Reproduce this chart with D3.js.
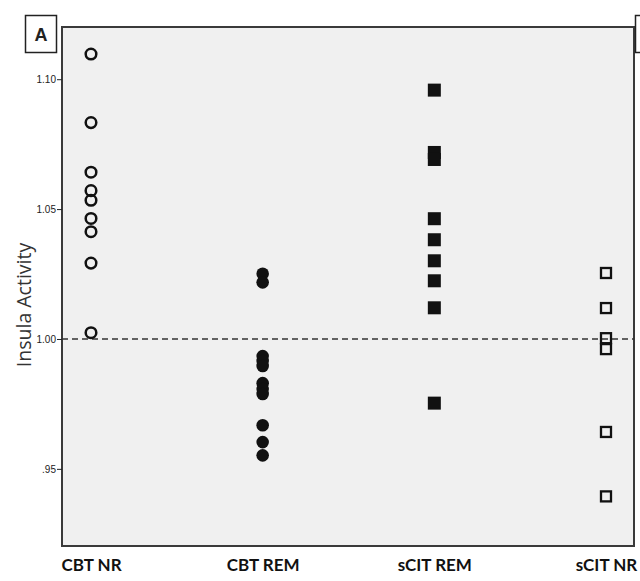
<!DOCTYPE html>
<html>
<head>
<meta charset="utf-8">
<script src="https://cdn.jsdelivr.net/npm/d3@7"></script>
<style>
  body { margin: 0; background: #fff; }
</style>
</head>
<body>
<div id="chart"></div>
<script>
// groups along the x axis, and the marker used for each
var groups = ["CBT NR", "CBT REM", "sCIT REM", "sCIT NR"];
var markers = ["openCircle", "filledCircle", "filledSquare", "openSquare"];

// insula activity per subject
var cbtNR   = [1.1097, 1.0833, 1.0642, 1.0571, 1.0534, 1.0464, 1.0413, 1.0292, 1.0024];
var cbtREM  = [1.0251, 1.0218, 0.9934, 0.9915, 0.9896, 0.9830, 0.9807, 0.9788, 0.9668, 0.9603, 0.9552];
var scitREM = [1.0958, 1.0718, 1.0691, 1.0463, 1.0382, 1.0301, 1.0224, 1.0120, 0.9753];
var scitNR  = [1.0254, 1.0119, 1.0003, 0.9961, 0.9642, 0.9394];

var yTicks = [0.95, 1.00, 1.05, 1.10];
var yTickLabels = [".95", "1.00", "1.05", "1.10"];
var refLine = 1.00;

var series = [cbtNR, cbtREM, scitREM, scitNR];

var W = 640, H = 581;
var frame = { left: 62, top: 27, right: 634, bottom: 546 };

var svg = d3.select("#chart").append("svg")
    .attr("width", W)
    .attr("height", H);

var x = d3.scalePoint()
    .domain(groups)
    .range([91, 606]);

var y = d3.scaleLinear()
    .domain([0.9203, 1.1201])
    .range([frame.bottom, frame.top]);

// plot background + frame
svg.append("rect")
    .attr("x", frame.left)
    .attr("y", frame.top)
    .attr("width", frame.right - frame.left)
    .attr("height", frame.bottom - frame.top)
    .style("fill", "#f0f0f0")
    .style("stroke", "#3a3a3a")
    .style("stroke-width", "2px");

// y axis
var yAxis = svg.append("g")
    .attr("transform", "translate(" + frame.left + ",0)")
    .call(d3.axisLeft(y)
        .tickValues(yTicks)
        .tickSize(5)
        .tickPadding(1)
        .tickFormat(function (d, i) { return yTickLabels[i]; }));
yAxis.select(".domain").remove();
yAxis.selectAll("line").style("stroke", "#222");
yAxis.selectAll("text")
    .style("font-family", "'Liberation Sans', Arial, sans-serif")
    .style("font-size", "10px")
    .style("fill", "#222")
    .attr("dy", "0.35em");

// y title
svg.append("text")
    .attr("transform", "translate(31,305) rotate(-90)")
    .attr("text-anchor", "middle")
    .style("font-family", "'Open Sans', sans-serif")
    .style("font-size", "19.5px")
    .style("fill", "#333")
    .text("Insula Activity");

// dashed reference line at 1.00
svg.append("line")
    .attr("x1", frame.left)
    .attr("x2", frame.right)
    .attr("y1", y(refLine))
    .attr("y2", y(refLine))
    .style("stroke", "#333")
    .style("stroke-width", "1.5px")
    .style("stroke-dasharray", "6,4");

// points
series.forEach(function (vals, gi) {
    var g = svg.append("g").attr("class", "group");
    var cx = x(groups[gi]);
    var kind = markers[gi];
    vals.forEach(function (v) {
        var cy = y(v);
        if (kind === "openCircle") {
            g.append("circle").attr("cx", cx).attr("cy", cy).attr("r", 5.3)
                .style("fill", "none").style("stroke", "#111").style("stroke-width", "2.5px");
        } else if (kind === "filledCircle") {
            g.append("circle").attr("cx", cx).attr("cy", cy).attr("r", 6.3)
                .style("fill", "#111").style("stroke", "none");
        } else if (kind === "filledSquare") {
            g.append("rect").attr("x", cx - 6.5).attr("y", cy - 6.5).attr("width", 13).attr("height", 13)
                .style("fill", "#111").style("stroke", "none");
        } else {
            g.append("rect").attr("x", cx - 5).attr("y", cy - 5).attr("width", 10).attr("height", 10)
                .style("fill", "none").style("stroke", "#111").style("stroke-width", "2.3px");
        }
    });
});

// x labels
var xAxis = svg.append("g")
    .attr("transform", "translate(0," + frame.bottom + ")")
    .call(d3.axisBottom(x).tickSize(0).tickPadding(13));
xAxis.select(".domain").remove();
xAxis.selectAll("text")
    .style("font-family", "Lato, 'Open Sans', sans-serif")
    .style("font-weight", "bold")
    .style("font-size", "17px")
    .style("fill", "#111");

// panel labels
svg.append("rect")
    .attr("x", 25.5).attr("y", 15.5).attr("width", 31).attr("height", 37)
    .style("fill", "#fff").style("stroke", "#222").style("stroke-width", "1.5px");
svg.append("text")
    .attr("x", 41).attr("y", 41)
    .attr("text-anchor", "middle")
    .style("font-family", "'Liberation Sans', Arial, sans-serif")
    .style("font-weight", "bold")
    .style("font-size", "18px")
    .style("fill", "#222")
    .text("A");
svg.append("rect")
    .attr("x", 635.5).attr("y", 15.5).attr("width", 31).attr("height", 37)
    .style("fill", "#fff").style("stroke", "#222").style("stroke-width", "1.5px");
</script>
</body>
</html>
